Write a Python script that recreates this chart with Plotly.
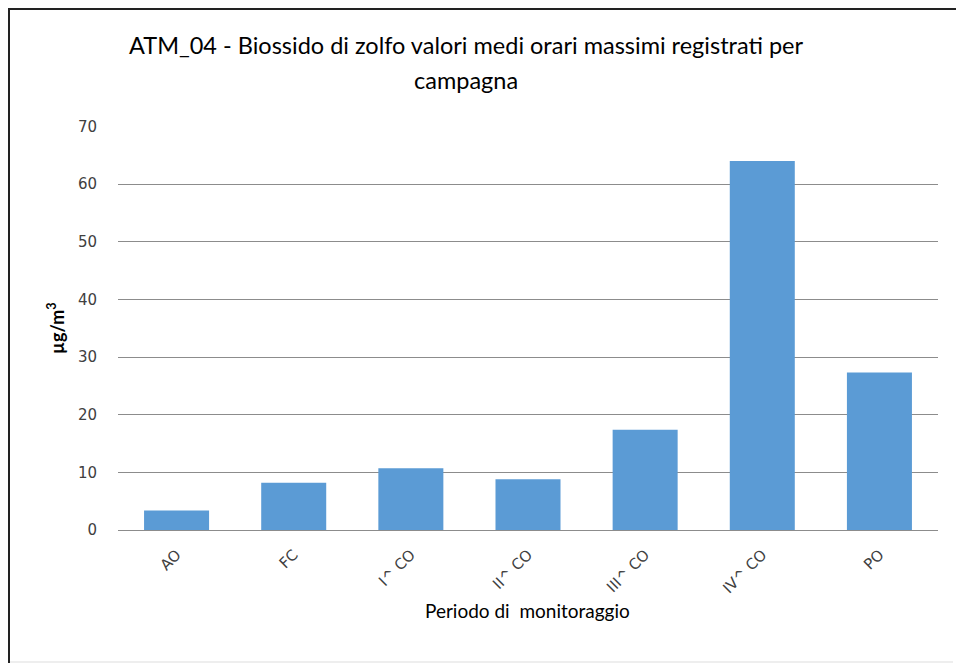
import plotly.graph_objects as go

categories = ["AO", "FC", "I^ CO", "II^ CO", "III^ CO", "IV^ CO", "PO"]
values = [3.4, 8.2, 10.7, 8.8, 17.4, 64.0, 27.3]
y_ticks = [0, 10, 20, 30, 40, 50, 60, 70]

title_lines = ["ATM_04 - Biossido di zolfo valori medi orari massimi registrati per", "campagna"]
x_title = "Periodo di  monitoraggio"
y_title = "µg/m<sup>3</sup>"

L, R, T, B = 118, 938, 126, 530
PW, PH = R - L, B - T

def px(x):
    return (x - L) / PW

def py(y):
    return (B - y) / PH

fig = go.Figure()
fig.add_trace(go.Bar(
    x=categories, y=values,
    marker=dict(color="#5B9BD5", line=dict(width=0)),
    width=0.555,
))

fig.update_layout(
    width=956, height=666,
    margin=dict(l=L, r=956 - R, t=T, b=666 - B),
    paper_bgcolor="white", plot_bgcolor="white",
    showlegend=False,
    font=dict(family="DejaVu Sans", size=12, color="#404040"),
)
fig.update_yaxes(
    range=[0, 70.08], tickvals=y_ticks, showgrid=True, gridcolor="#8C8C8C", gridwidth=1,
    zeroline=True, zerolinecolor="#8C8C8C", zerolinewidth=1,
    showline=False, ticks="", ticklabelstandoff=20,
    tickfont=dict(family="DejaVu Sans", size=15, color="#404040"),
)
fig.update_xaxes(
    showgrid=False, showline=False, ticks="", tickangle=-45,
    tickfont=dict(family="DejaVu Sans", size=15, color="#404040"),
    ticklabelstandoff=12,
)
for line_text, yc in zip(title_lines, [45, 80]):
    fig.add_annotation(text=line_text, xref="paper", yref="paper", x=px(466), y=py(yc),
                       showarrow=False, xanchor="center", yanchor="middle",
                       font=dict(family="Lato", size=23.5, color="#000000"))
fig.add_annotation(text=x_title, xref="paper", yref="paper", x=px(527), y=py(610),
                   showarrow=False, xanchor="center", yanchor="middle",
                   font=dict(family="Lato", size=19, color="#000000"))
fig.add_annotation(text="<b>" + y_title + "</b>", xref="paper", yref="paper", x=px(56), y=py(328),
                   showarrow=False, xanchor="center", yanchor="middle", textangle=-90,
                   font=dict(family="Lato", size=18, color="#000000"))
# outer frame
fig.add_shape(type="line", xref="paper", yref="paper", x0=px(9), x1=px(953),
              y0=py(662), y1=py(662), line=dict(color="#DDDDDD", width=1))
fig.add_shape(type="line", xref="paper", yref="paper", x0=px(9), x1=px(9),
              y0=py(663), y1=py(8), line=dict(color="#222222", width=2))
fig.add_shape(type="line", xref="paper", yref="paper", x0=px(9), x1=px(956),
              y0=py(9), y1=py(9), line=dict(color="#222222", width=2))

fig.write_html("out.html", config={"displayModeBar": False},
               post_script="document.body.style.margin='0';document.body.style.overflow='hidden';")
